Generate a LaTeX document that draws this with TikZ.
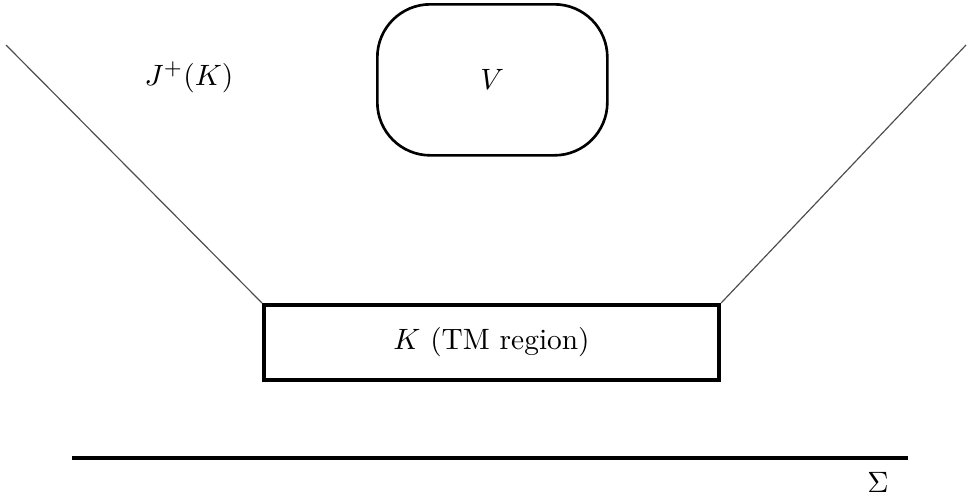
\documentclass[tikz,border=0pt]{standalone}
\begin{document}
\begin{tikzpicture}[x=0.34pt,y=-0.34pt,
  thinline/.style={line width=0.4pt, black!70},
  boxline/.style={line width=1.4pt},
  vline/.style={line width=0.9pt}]
\useasboundingbox (0,0) rectangle (972,495);
\node[draw, boxline, minimum width=455*0.34pt, minimum height=75*0.34pt, inner sep=0pt, anchor=north west] (K) at (262,303) {};
\node at (K.center) {$K$\ (TM region)};
\node[draw, vline, rounded corners=18pt, minimum width=230*0.34pt, minimum height=151*0.34pt, inner sep=0pt, anchor=north west] (V) at (376,3) {};
\node at (V.center) {$V$};
\coordinate (L) at (6,45);
\coordinate (R) at (966,45);
\draw[thinline] (L) -- (K.north west);
\draw[thinline] (R) -- (K.north east);
\node (J) at (189,77) {$J^+(K)$};
\coordinate (S1) at (72,458);
\coordinate (S2) at (908,458);
\draw[line width=1.1pt] (S1) -- (S2);
\node (Sig) at (878,482) {$\Sigma$};
\end{tikzpicture}
\end{document}
